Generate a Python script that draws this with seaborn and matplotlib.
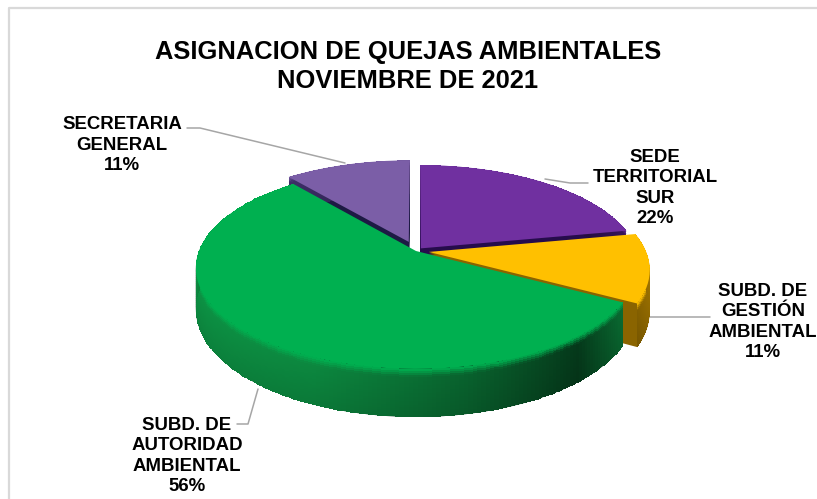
import numpy as np
import matplotlib
matplotlib.use("Agg")
import matplotlib.pyplot as plt
from matplotlib.transforms import Transform
import seaborn as sns

# values
areas = ["SEDE\nTERRITORIAL\nSUR", "SUBD. DE\nGESTIÓN\nAMBIENTAL",
         "SUBD. DE\nAUTORIDAD\nAMBIENTAL", "SECRETARIA\nGENERAL"]
shares = [22, 11, 56, 11]
share_labels = ["22%", "11%", "56%", "11%"]
title = "ASIGNACION DE QUEJAS AMBIENTALES\nNOVIEMBRE DE 2021"

# slice styling
top_colors = sns.color_palette(["#7030a0", "#ffc000", "#00b050", "#7b5ea7"])
wall_colors = sns.color_palette(["#3a1560", "#a87a00", "#0c8a40", "#3c2c66"])
cut_colors = sns.color_palette(["#260c4c", "#8a6400", "#06401f", "#1d1a44"])
pull_out = [0.035, 0.06, 0.0, 0.1]
draw_rank = [20, 30, 40, 10]  # back slices first

# fake 3d projection of the unit pie, in pixels
CX, CY, RX, RY, PERSP, DEPTH = 416, 251, 217, 98.1, 0.168, 40


class Tilt(Transform):
    input_dims = output_dims = 2

    def __init__(self, drop=0.0):
        super().__init__()
        self.drop = drop

    def transform_non_affine(self, values):
        x, y = values[:, 0], values[:, 1]
        w = 1 + PERSP * y
        return np.column_stack([CX + RX * x / w, CY - (RY * y - self.drop) / w])


sns.set_theme(style="white")
plt.rcParams["font.family"] = ["Liberation Sans", "DejaVu Sans"]

fig = plt.figure(figsize=(8.17, 4.99), dpi=100)
ax = fig.add_axes([0, 0, 1, 1])

# cut faces: a stack of dark copies going down
for drop in np.linspace(DEPTH, 1, 22):
    wedges, _ = ax.pie(shares, explode=pull_out, startangle=90, counterclock=False,
                       colors=cut_colors, wedgeprops={"linewidth": 0})
    for w, rank in zip(wedges, draw_rank):
        w.set_transform(Tilt(drop) + ax.transData)
        w.set_zorder(rank)

# top faces
wedges, _ = ax.pie(shares, explode=pull_out, startangle=90, counterclock=False,
                   colors=top_colors, wedgeprops={"linewidth": 0})
for w, rank in zip(wedges, draw_rank):
    w.set_transform(Tilt() + ax.transData)
    w.set_zorder(rank + 2)

# rounded side walls with a bit of shading
for w, rank, base, top in zip(wedges, draw_rank, wall_colors, top_colors):
    theta = np.radians(np.linspace(w.theta1, w.theta2, 200))
    steps = np.linspace(0, 1, 25)
    xs, ys = [], []
    for s in steps:
        pts = np.column_stack([w.center[0] + np.cos(theta), w.center[1] + np.sin(theta)])
        out = Tilt(s * DEPTH).transform_non_affine(pts)
        xs.append(out[:, 0])
        ys.append(out[:, 1])
    mid = (theta[:-1] + theta[1:]) / 2
    light = np.interp(np.cos(mid), [-1, -0.4, 0.2, 0.65, 1], [1.08, 1.0, 0.72, 0.42, 1.0])
    rgb = np.zeros((len(steps) - 1, len(mid), 3))
    for i, s in enumerate((steps[:-1] + steps[1:]) / 2):
        glow = np.clip(1 - s / 0.16, 0, 1)
        dim = 1 - 0.12 * s
        shade = np.array(base)[None, :] * (light * dim)[:, None]
        rgb[i] = shade * (1 - glow) + np.array(top)[None, :] * glow
    ax.pcolormesh(np.array(xs), np.array(ys), np.clip(rgb, 0, 1), zorder=rank + 1,
                  linewidth=0, antialiased=False)

ax.set_aspect("auto")
ax.set_xlim(0, 817)
ax.set_ylim(499, 0)
ax.axis("off")

# chart frame, open on the right and at the bottom
ax.plot([9.5, 9.5, 817], [499, 8, 8], color="#d9d9d9", lw=1.6, zorder=1)

ax.text(408, 66.5, title, ha="center", va="center", fontsize=18.4, fontweight="bold",
        color="black", linespacing=1.24, zorder=60)

# labels and leader lines
label_pos = [(655, 188), (763, 322), (187, 456), (122, 145)]
leaders = [([545, 570, 588], [179, 183, 183]),
           ([650, 710], [317, 317]),
           ([258, 248, 237], [389, 424, 424]),
           ([345, 200, 187], [163, 128, 128])]
for name, pct, pos, line in zip(areas, share_labels, label_pos, leaders):
    ax.text(pos[0], pos[1], name + "\n" + pct, ha="center", va="center", fontsize=13.4,
            fontweight="bold", color="black", linespacing=1.27, zorder=60)
    ax.plot(line[0], line[1], color="#a6a6a6", lw=1.1, zorder=5)

fig.savefig("out.png", dpi=100)
